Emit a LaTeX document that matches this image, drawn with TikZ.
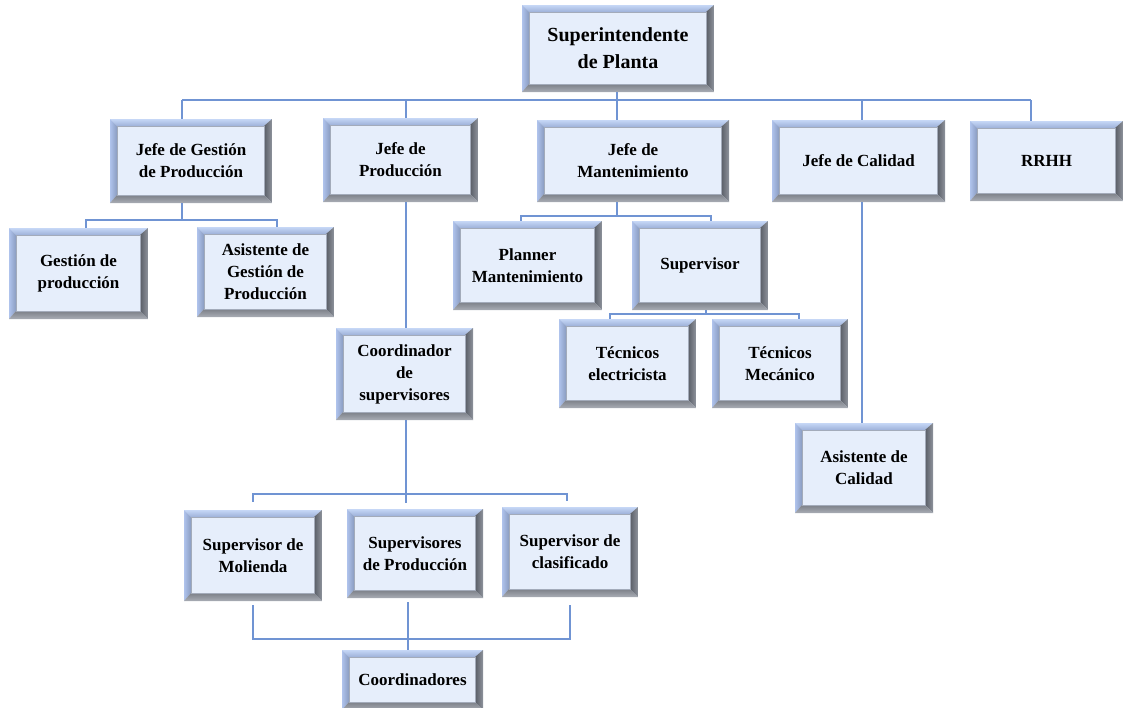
\documentclass[tikz,border=0pt]{standalone}
\usepackage{fontspec}
\setmainfont{Liberation Serif}
\usetikzlibrary{calc}

\definecolor{face}{HTML}{E6EEFB}
\definecolor{facerule}{HTML}{A3ABBA}
\definecolor{bevtopA}{HTML}{C6D7F6}
\definecolor{bevtopB}{HTML}{9DB1D9}
\definecolor{bevleftA}{HTML}{AFC3EC}
\definecolor{bevleftB}{HTML}{8A9CC1}
\definecolor{bevrightA}{HTML}{595D66}
\definecolor{bevrightB}{HTML}{8F949D}
\definecolor{bevbotA}{HTML}{7C8088}
\definecolor{bevbotB}{HTML}{A9ADB5}
\definecolor{link}{HTML}{7094D3}

\newcommand{\boxfont}{\fontsize{17pt}{22pt}\selectfont\bfseries}
\newcommand{\topfont}{\fontsize{20pt}{27pt}\selectfont\bfseries}

\tikzset{
  bevbox/.style args={#1x#2}{
    minimum width=#1pt, minimum height=#2pt, inner sep=0pt,
    fill=face, align=center, font=\boxfont, text=black,
    path picture={
      \coordinate (pnw) at (path picture bounding box.north west);
      \coordinate (pne) at (path picture bounding box.north east);
      \coordinate (psw) at (path picture bounding box.south west);
      \coordinate (pse) at (path picture bounding box.south east);
      % bevelled rim: light blue on top and left, grey on right and bottom
      \shade[top color=bevtopA, bottom color=bevtopB]
        (pnw) -- (pne) -- ([shift={(-8pt,-7pt)}]pne) -- ([shift={(7pt,-7pt)}]pnw) -- cycle;
      \shade[left color=bevleftA, right color=bevleftB]
        (pnw) -- ([shift={(7pt,-7pt)}]pnw) -- ([shift={(7pt,8pt)}]psw) -- (psw) -- cycle;
      \shade[left color=bevrightA, right color=bevrightB]
        (pne) -- (pse) -- ([shift={(-8pt,8pt)}]pse) -- ([shift={(-8pt,-7pt)}]pne) -- cycle;
      \shade[top color=bevbotA, bottom color=bevbotB]
        (psw) -- (pse) -- ([shift={(-8pt,8pt)}]pse) -- ([shift={(7pt,8pt)}]psw) -- cycle;
      \draw[facerule, line width=0.6pt]
        ([shift={(7pt,-7pt)}]pnw) rectangle ([shift={(-8pt,8pt)}]pse);
    }
  },
  conn/.style={draw=link, line width=1.3pt}
}

\begin{document}
\begin{tikzpicture}[x=1pt, y=-1pt]
\useasboundingbox (0,0) rectangle (1123,707);

% ---- boxes ----
\node[bevbox=192x87, font=\topfont] (sup) at (618,48.5) {Superintendente\\de Planta};

\node[bevbox=162x84] (jg) at (191,161)    {Jefe de Gestión\\de Producción};
\node[bevbox=155x84] (jp) at (400.5,160)  {Jefe de\\Producción};
\node[bevbox=192x82] (jm) at (633,161)    {Jefe de\\Mantenimiento};
\node[bevbox=173x82] (jc) at (858.5,161)  {Jefe de Calidad};
\node[bevbox=153x80] (rr) at (1046.5,161) {RRHH};

\node[bevbox=139x91] (gp) at (78.5,273.5) {Gestión de\\producción};
\node[bevbox=137x90] (ag) at (265.5,272)  {Asistente de\\Gestión de\\Producción};

\node[bevbox=149x89] (pm) at (527.5,265.5) {Planner\\Mantenimiento};
\node[bevbox=136x89] (sv) at (700,265.5)   {Supervisor};
\node[bevbox=137x89] (te) at (627.5,363.5) {Técnicos\\electricista};
\node[bevbox=136x89] (tm) at (780,363.5)   {Técnicos\\Mecánico};

\node[bevbox=137x92] (cs) at (404.5,374) {Coordinador\\de\\supervisores};
\node[bevbox=138x90] (ac) at (864,468)   {Asistente de\\Calidad};

\node[bevbox=138x91] (sm) at (253,555.5) {Supervisor de\\Molienda};
\node[bevbox=136x89] (sp) at (415,553.5) {Supervisores\\de Producción};
\node[bevbox=136x90] (sc) at (570,552)   {Supervisor de\\clasificado};
\node[bevbox=141x60] (co) at (412.5,680) {Coordinadores};

% ---- connector anchor points ----
\coordinate (b1l) at (182,100);
\coordinate (b1r) at (1031,100);
\coordinate (b1p) at (406,100);
\coordinate (b1m) at (617,100);
\coordinate (b1c) at (862,100);

\coordinate (b2l) at (86,220);
\coordinate (b2r) at (277,220);

\coordinate (b3l) at (521,216);
\coordinate (b3r) at (711,216);

\coordinate (b4l) at (610,314);
\coordinate (b4r) at (799,314);
\coordinate (b4s) at (706,314);

\coordinate (b5l) at (253,494);
\coordinate (b5r) at (567,494);
\coordinate (b5c) at (406,494);

\coordinate (b6l) at (253,639);
\coordinate (b6r) at (570,639);
\coordinate (b6c) at (408,639);

% ---- connectors ----
% top level
\draw[conn] (sup.south -| b1m) -- (b1m);
\draw[conn] (b1l) -- (b1r);
\draw[conn] (b1l) -- (b1l |- jg.north);
\draw[conn] (b1p) -- (b1p |- jp.north);
\draw[conn] (b1m) -- (b1m |- jm.north);
\draw[conn] (b1c) -- (b1c |- jc.north);
\draw[conn] (b1r) -- (b1r |- rr.north);

% production management
\draw[conn] (jg.south -| b1l) -- (b1l |- b2l);
\draw[conn] (b2l |- gp.north) -- (b2l) -- (b2r) -- (b2r |- ag.north);

% maintenance
\draw[conn] (jm.south -| b1m) -- (b1m |- b3l);
\draw[conn] (b3l |- pm.north) -- (b3l) -- (b3r) -- (b3r |- sv.north);
\draw[conn] (sv.south -| b4s) -- (b4s);
\draw[conn] (b4l |- te.north) -- (b4l) -- (b4r) -- (b4r |- tm.north);

% quality
\draw[conn] (jc.south -| b1c) -- (b1c |- ac.north);

% production
\draw[conn] (jp.south -| b1p) -- (b1p |- cs.north);
\draw[conn] (cs.south -| b5c) -- (b5c);
\draw[conn] ($(b5l |- sm.north)+(0,-8)$) -- (b5l) -- (b5r) -- ($(b5r |- sc.north)+(0,-6)$);
\draw[conn] (b5c) -- ($(b5c |- sp.north)+(0,-6)$);

% supervisors to coordinators
\draw[conn] ($(sm.south -| b6l)+(0,4)$) -- (b6l) -- (b6r) -- ($(b6r |- sc.south)+(0,8)$);
\draw[conn] ($(sp.south -| b6c)+(0,4)$) -- (b6c |- co.north);
\end{tikzpicture}
\end{document}
